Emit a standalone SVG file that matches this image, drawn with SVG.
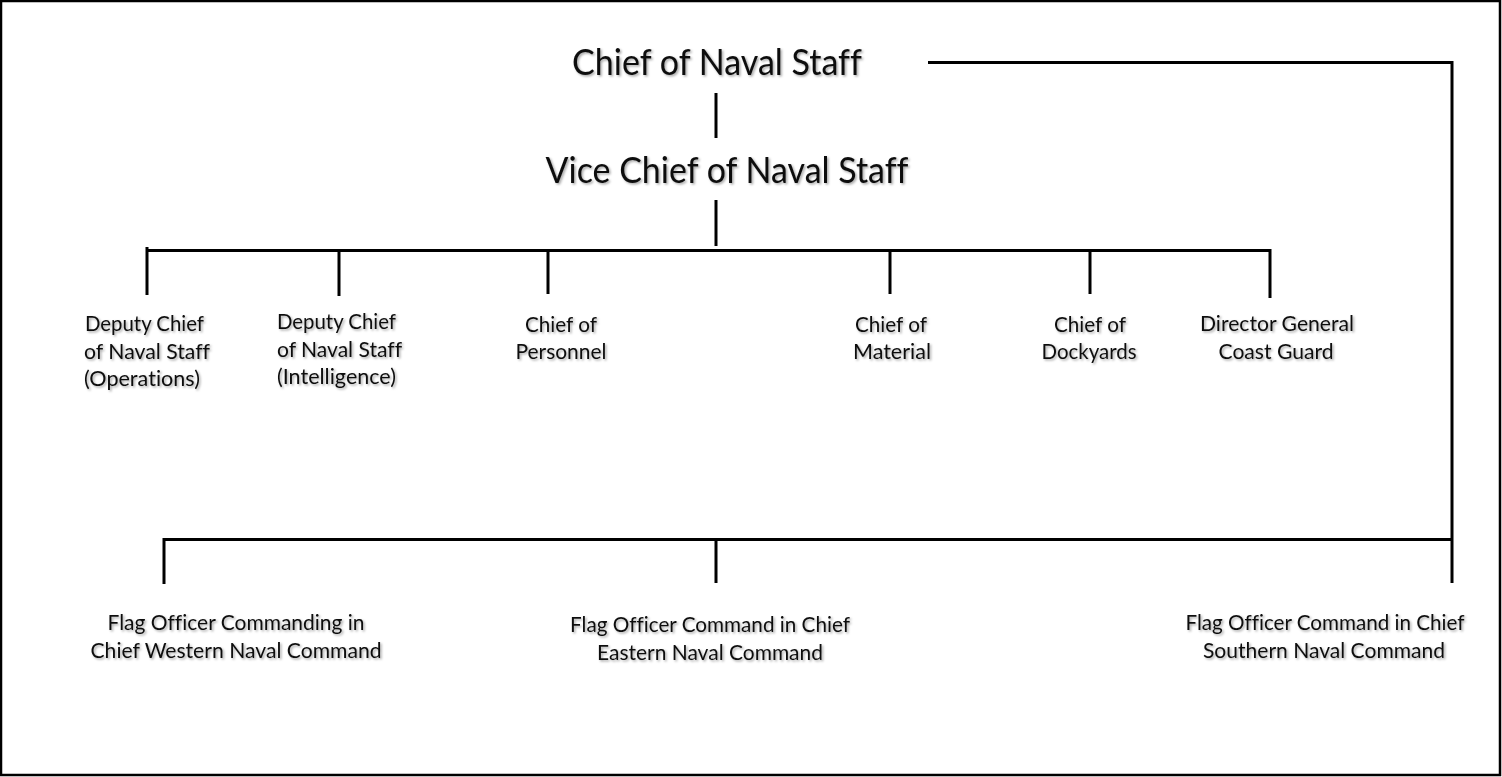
<svg xmlns="http://www.w3.org/2000/svg" width="1502" height="777" viewBox="0 0 1502 777">
<defs>
<filter id="sh" x="-5%" y="-20%" width="110%" height="140%">
<feDropShadow dx="1.5" dy="1.5" stdDeviation="1" flood-color="#000" flood-opacity="0.35"/>
</filter>
</defs>
<style>
.ln{stroke:#000;stroke-width:3;fill:none;stroke-linecap:butt}
text{font-family:Lato,"Open Sans","Liberation Sans",sans-serif;fill:#111;filter:url(#sh);font-variant-ligatures:none;font-feature-settings:"liga" 0}
.big{font-size:37px}
.sm{font-size:20.5px}
.c{text-anchor:middle}
</style>
<rect x="0" y="0" width="1502" height="777" fill="#fff"/>
<rect x="1" y="1" width="1499" height="774" fill="none" stroke="#000" stroke-width="2.5"/>
<g id="connectors">
<path class="ln" d="M928,62.5 H1452 V583"/>
<path class="ln" d="M716,93 V138"/>
<path class="ln" d="M716,200 V246"/>
<path class="ln" d="M147,247 V295 M147,250.5 H1271.5 M339,250.5 V296 M548,250.5 V294 M890,250.5 V294 M1090,250.5 V294 M1270,250.5 V298"/>
<path class="ln" d="M164,584 V539.5 H1452 M716,539.5 V583"/>
</g>
<g id="cns"><text class="big c" x="717" y="75" textLength="290" lengthAdjust="spacingAndGlyphs">Chief of Naval Staff</text></g>
<g id="vcns"><text class="big c" x="727" y="183" textLength="363" lengthAdjust="spacingAndGlyphs">Vice Chief of Naval Staff</text></g>
<g id="dcns-ops">
<text class="sm" x="85" y="331" textLength="119" lengthAdjust="spacingAndGlyphs">Deputy Chief</text>
<text class="sm" x="84" y="359" textLength="126" lengthAdjust="spacingAndGlyphs">of Naval Staff</text>
<text class="sm" x="84" y="386" textLength="116" lengthAdjust="spacingAndGlyphs">(Operations)</text>
</g>
<g id="dcns-int">
<text class="sm" x="277" y="329" textLength="119" lengthAdjust="spacingAndGlyphs">Deputy Chief</text>
<text class="sm" x="277" y="357" textLength="125" lengthAdjust="spacingAndGlyphs">of Naval Staff</text>
<text class="sm" x="277" y="384" textLength="119" lengthAdjust="spacingAndGlyphs">(Intelligence)</text>
</g>
<g id="personnel">
<text class="sm c" x="561" y="332" textLength="72" lengthAdjust="spacingAndGlyphs">Chief of</text>
<text class="sm c" x="561" y="359" textLength="91" lengthAdjust="spacingAndGlyphs">Personnel</text>
</g>
<g id="material">
<text class="sm c" x="891" y="332" textLength="72" lengthAdjust="spacingAndGlyphs">Chief of</text>
<text class="sm c" x="892" y="359" textLength="78" lengthAdjust="spacingAndGlyphs">Material</text>
</g>
<g id="dockyards">
<text class="sm c" x="1090" y="332" textLength="72" lengthAdjust="spacingAndGlyphs">Chief of</text>
<text class="sm c" x="1089" y="359" textLength="95" lengthAdjust="spacingAndGlyphs">Dockyards</text>
</g>
<g id="coastguard">
<text class="sm c" x="1277" y="331" textLength="154" lengthAdjust="spacingAndGlyphs">Director General</text>
<text class="sm c" x="1276" y="359" textLength="115" lengthAdjust="spacingAndGlyphs">Coast Guard</text>
</g>
<g id="western">
<text class="sm c" x="236" y="630" textLength="257" lengthAdjust="spacingAndGlyphs">Flag Officer Commanding in</text>
<text class="sm c" x="236" y="658" textLength="291" lengthAdjust="spacingAndGlyphs">Chief Western Naval Command</text>
</g>
<g id="eastern">
<text class="sm c" x="710" y="632" textLength="280" lengthAdjust="spacingAndGlyphs">Flag Officer Command in Chief</text>
<text class="sm c" x="710" y="660" textLength="226" lengthAdjust="spacingAndGlyphs">Eastern Naval Command</text>
</g>
<g id="southern">
<text class="sm c" x="1325" y="630" textLength="279" lengthAdjust="spacingAndGlyphs">Flag Officer Command in Chief</text>
<text class="sm c" x="1324" y="658" textLength="242" lengthAdjust="spacingAndGlyphs">Southern Naval Command</text>
</g>
</svg>
